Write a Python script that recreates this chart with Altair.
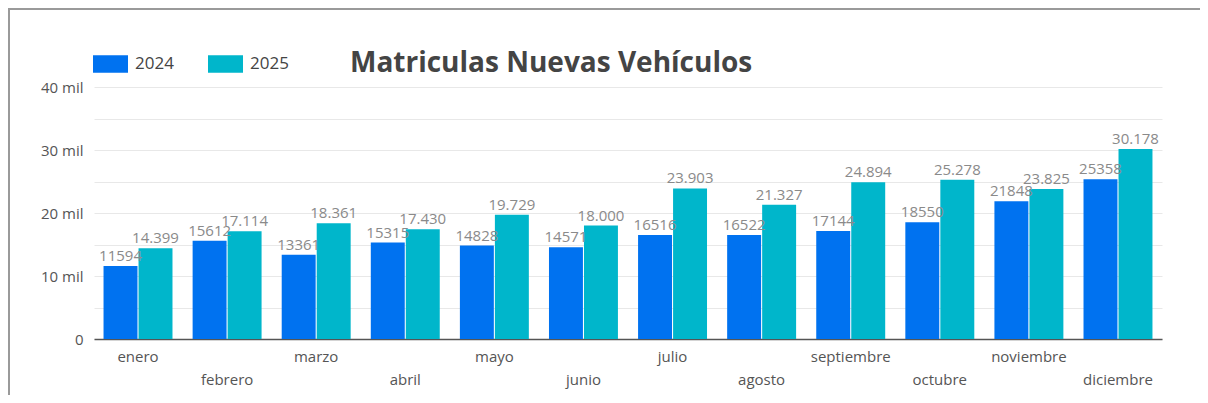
import altair as alt
import pandas as pd

meses = ["enero", "febrero", "marzo", "abril", "mayo", "junio", "julio",
         "agosto", "septiembre", "octubre", "noviembre", "diciembre"]
v2024 = [11594, 15612, 13361, 15315, 14828, 14571, 16516, 16522, 17144, 18550, 21848, 25358]
v2025 = [14399, 17114, 18361, 17430, 19729, 18000, 23903, 21327, 24894, 25278, 23825, 30178]
anios = ["2024", "2025"]
colores = ["#0072F0", "#00B6CB"]
y_ticks = [0, 5000, 10000, 15000, 20000, 25000, 30000, 35000, 40000]
titulo = "Matriculas Nuevas Vehículos"

rows = []
for i, m in enumerate(meses):
    rows.append({"mes": m, "anio": "2024", "valor": v2024[i]})
    rows.append({"mes": m, "anio": "2025", "valor": v2025[i]})
df = pd.DataFrame(rows)

W, H = 1068, 252
FONT = "Open Sans"
PAD = {"left": 86, "top": 79, "right": 38, "bottom": 56}

x = alt.X(
    "mes:N", sort=meses,
    scale=alt.Scale(paddingInner=0.226, paddingOuter=0.107),
    axis=alt.Axis(
        title=None, labelAngle=0, ticks=False, grid=False,
        domainColor="#555555", domainWidth=1.5,
        labelColor="#555555", labelFontSize=15, labelFont=FONT,
        labelPadding=10, labelLineHeight=23,
        labelExpr="round(datum.index*11) % 2 == 1 ? ['', datum.label] : datum.label",
    ),
)
y = alt.Y(
    "valor:Q",
    scale=alt.Scale(domain=[0, 40000], nice=False),
    axis=alt.Axis(
        title=None, values=y_ticks, domain=False, ticks=False,
        gridColor="#e8e8e8", labelColor="#555555", labelFontSize=15,
        labelFont=FONT, labelPadding=11,
        labelExpr="datum.value % 10000 == 0 ? (datum.value == 0 ? '0' : (datum.value/1000) + ' mil') : ''",
    ),
)
xo = alt.XOffset("anio:N", sort=anios, scale=alt.Scale(paddingInner=0.03))

base = alt.Chart(df)

bars = base.mark_bar().encode(
    x=x, y=y, xOffset=xo,
    color=alt.Color(
        "anio:N", sort=anios,
        scale=alt.Scale(domain=anios, range=colores),
        legend=alt.Legend(
            title=None, orient="none", legendX=-1, legendY=-41,
            direction="horizontal",
            symbolType="M-1,-0.5H1V0.5H-1Z", symbolSize=1225,
            symbolStrokeWidth=0, symbolOpacity=1,
            labelFont=FONT, labelFontSize=17, labelColor="#444444",
            labelOffset=7, columnPadding=34,
        ),
    ),
)

labels = base.transform_calculate(
    etiqueta="datum.anio == '2024' ? toString(datum.valor) : replace(format(datum.valor, ','), ',', '.')"
).mark_text(
    baseline="bottom", align="center", dy=-2, font=FONT, fontSize=15, color="#8a8a8a"
).encode(x=x, y=y, xOffset=xo, text="etiqueta:N")

frame_left = alt.Chart(df).mark_rule(color="#9a9a9a", strokeWidth=1.5).encode(
    x=alt.value(-85), y=alt.value(-78), y2=alt.value(H + PAD["bottom"])
)
frame_top = alt.Chart(df).mark_rule(color="#9a9a9a", strokeWidth=1.5).encode(
    x=alt.value(-86), x2=alt.value(W + PAD["right"]), y=alt.value(-78)
)

chart = alt.layer(frame_left, frame_top, bars, labels).properties(
    width=W, height=H,
    autosize=alt.AutoSizeParams(type="none"),
    padding=PAD,
    title=alt.TitleParams(
        titulo, anchor="start", frame="group", dx=256, dy=84, offset=0,
        baseline="middle", font=FONT, fontSize=28, fontWeight="bold", color="#444444",
    ),
).configure_view(stroke=None)

chart.save("out.html", embed_options={"renderer": "svg", "actions": False})
